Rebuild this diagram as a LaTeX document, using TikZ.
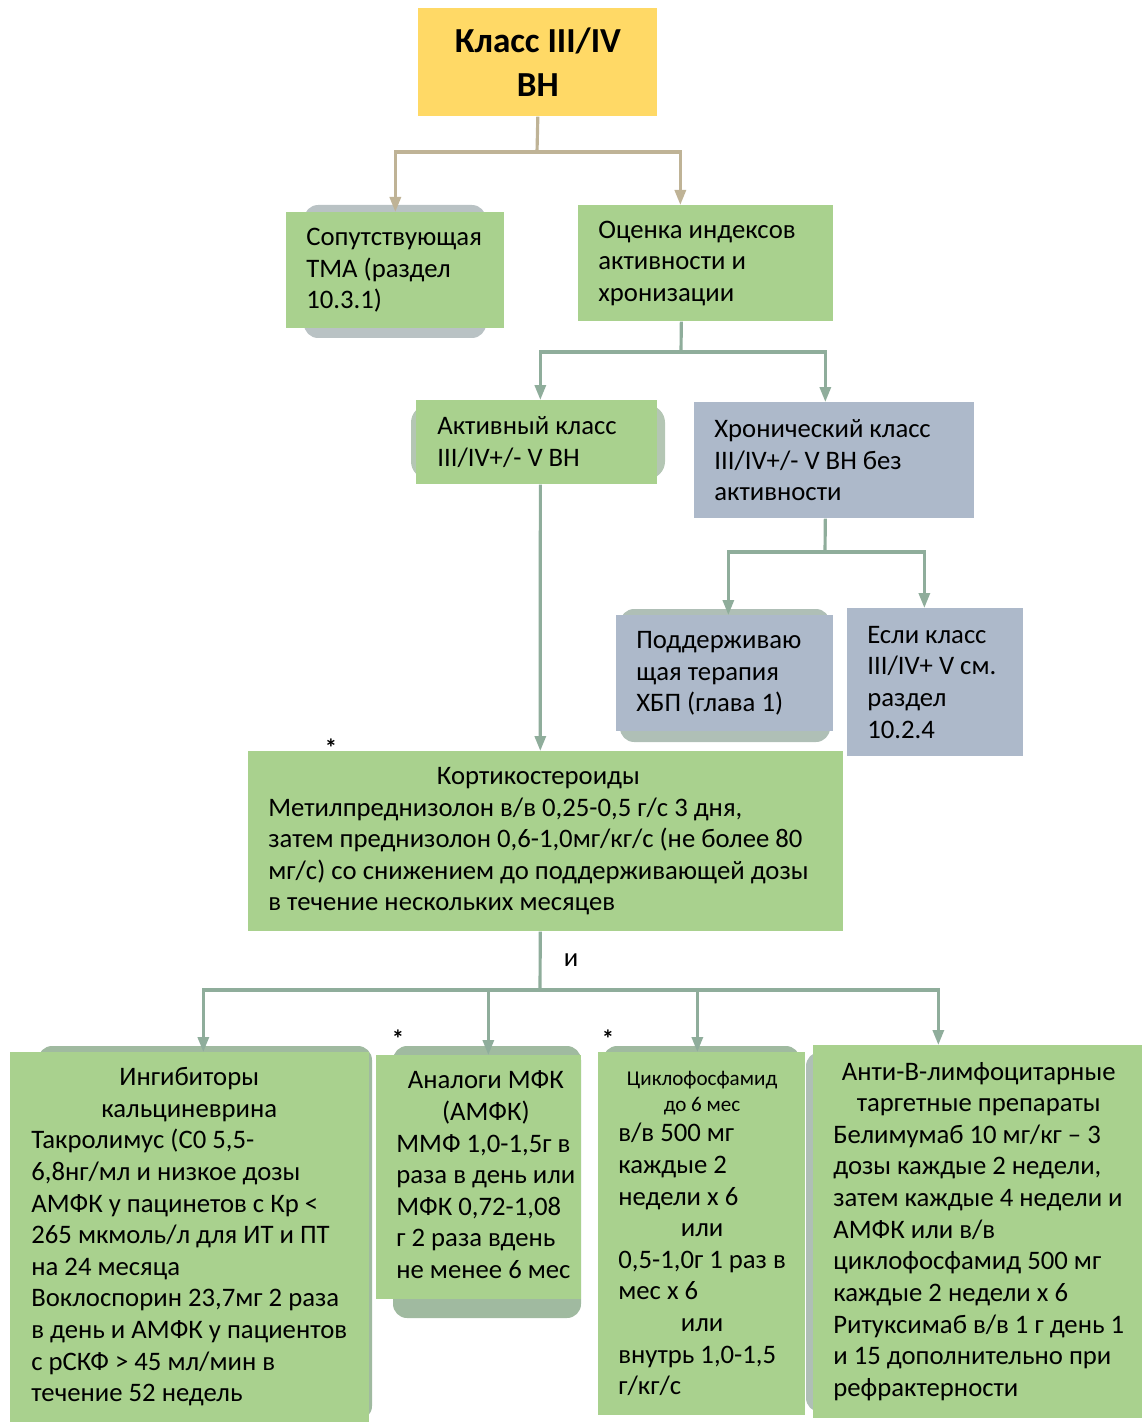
\documentclass[tikz,border=0pt]{standalone}
\usepackage{fontspec}
\setmainfont{Carlito}
\usetikzlibrary{arrows.meta}

\definecolor{rootyellow}{RGB}{255,217,102}
\definecolor{boxgreen}{RGB}{169,209,142}
\definecolor{boxgrey}{RGB}{173,185,202}
\definecolor{linetan}{RGB}{191,179,150}
\definecolor{linegreen}{RGB}{143,173,155}
\definecolor{shadegrey}{RGB}{185,194,196}
\definecolor{shadegreen}{RGB}{160,186,160}

\newcommand{\ctrline}[1]{\multicolumn{1}{@{}c@{}}{#1}}

\tikzset{
  basic/.style  = {rectangle, anchor=north west, inner sep=0pt},
  root/.style   = {basic, fill=rootyellow, align=center, font=\fontsize{20}{25}\selectfont\bfseries},
  green box/.style = {basic, fill=boxgreen},
  grey box/.style  = {basic, fill=boxgrey},
  boxtext/.style = {anchor=west, inner sep=0pt, align=left, font=\fontsize{15.2}{18}\selectfont},
  star/.style = {inner sep=0pt, font=\fontsize{14}{14}\selectfont\bfseries},
  line tan/.style   = {draw=linetan, line width=1.8pt},
  line green/.style = {draw=linegreen, line width=1.8pt},
  arrow tan/.style   = {line tan, -{Triangle[length=0.3cm,width=0.22cm]}},
  arrow green/.style = {line green, -{Triangle[length=0.3cm,width=0.22cm]}}
}

\begin{document}
\begin{tikzpicture}[x=0.02cm, y=-0.02cm]
\useasboundingbox (0,0) rectangle (1142,1425);

% rounded shapes left behind some of the boxes
\fill[shadegrey, rounded corners=8pt] (304,205) rectangle (486,338);
\fill[shadegrey!70!boxgreen, rounded corners=10pt] (411,405) rectangle (665,479);
\fill[shadegrey!60!shadegreen, rounded corners=8pt] (620,609) rectangle (830,742);
\fill[shadegreen, rounded corners=8pt] (38,1046) rectangle (372,1420);
\fill[shadegreen, rounded corners=8pt] (393,1046) rectangle (581,1318);
\fill[shadegreen, rounded corners=8pt] (603,1046) rectangle (800,1410);
\fill[shadegrey!60!shadegreen, rounded corners=8pt] (806,1052) rectangle (1130,1412);

% root of the tree
\node[root, minimum width=4.78cm, minimum height=2.16cm] (root) at (418,8) {Класс III/IV\\ВН};

% first level
\node[green box, minimum width=4.36cm, minimum height=2.32cm] (c1) at (286,212) {};
\node[green box, minimum width=5.1cm, minimum height=2.32cm] (c2) at (578,205) {};

% second level
\node[green box, minimum width=4.82cm, minimum height=1.68cm] (c21) at (416,400) {};
\node[grey box, minimum width=5.6cm, minimum height=2.32cm] (c22) at (694,402) {};
\node[grey box, minimum width=4.34cm, minimum height=2.32cm] (c221) at (616,615) {};
\node[grey box, minimum width=3.52cm, minimum height=2.96cm] (c222) at (847,608) {};

% corticosteroids and the four drug groups
\node[green box, minimum width=11.9cm, minimum height=3.6cm] (c3) at (248,751) {};
\node[green box, minimum width=7.18cm, minimum height=7.4cm] (c31) at (10,1052) {};
\node[green box, minimum width=4.1cm, minimum height=4.88cm] (c32) at (376,1055) {};
\node[green box, minimum width=4.14cm, minimum height=7.26cm] (c33) at (598,1052) {};
\node[green box, minimum width=6.58cm, minimum height=7.46cm] (c34) at (813,1045) {};

% texts of the boxes
\node[boxtext] (t1) at ([xshift=0.4cm]c1.west) {Сопутствующая\\ТМА (раздел\\10.3.1)};
\node[boxtext] (t2) at ([xshift=0.4cm]c2.west) {Оценка индексов\\активности и\\хронизации};
\node[boxtext] (t21) at ([xshift=0.42cm]c21.west) {Активный класс\\III/IV+/- V ВН};
\node[boxtext] (t22) at ([xshift=0.4cm]c22.west) {Хронический класс\\III/IV+/- V ВН без\\активности};
\node[boxtext] (t221) at ([xshift=0.4cm]c221.west) {Поддерживаю\\щая терапия\\ХБП (глава 1)};
\node[boxtext] (t222) at ([xshift=0.4cm]c222.west) {Если класс\\III/IV+ V см.\\раздел\\10.2.4};

\node[boxtext] (t3) at ([xshift=0.4cm]c3.west) {\begin{tabular}{@{}l@{}}
\ctrline{Кортикостероиды}\\
Метилпреднизолон в/в 0,25-0,5 г/с 3 дня,\\
затем преднизолон 0,6-1,0мг/кг/с (не более 80\\
мг/с) со снижением до поддерживающей дозы\\
в течение нескольких месяцев
\end{tabular}};

\node[boxtext] (t31) at ([xshift=0.42cm]c31.west) {\begin{tabular}{@{}l@{}}
\ctrline{Ингибиторы}\\
\ctrline{кальциневрина}\\
Такролимус (С0 5,5-\\
6,8нг/мл и низкое дозы\\
АМФК у пацинетов с Кр <\\
265 мкмоль/л для ИТ и ПТ\\
на 24 месяца\\
Воклоспорин 23,7мг 2 раза\\
в день и АМФК у пациентов\\
с рСКФ > 45 мл/мин в\\
течение 52 недель
\end{tabular}};

\node[boxtext] (t32) at ([xshift=0.4cm]c32.west) {\begin{tabular}{@{}l@{}}
\ctrline{Аналоги МФК}\\
\ctrline{(АМФК)}\\
ММФ 1,0-1,5г в\\
раза в день или\\
МФК 0,72-1,08\\
г 2 раза вдень\\
не менее 6 мес
\end{tabular}};

\node[boxtext] (t33) at ([xshift=0.4cm]c33.west) {\begin{tabular}{@{}l@{}}
\ctrline{\fontsize{12}{15}\selectfont Циклофосфамид}\\[-3pt]
\ctrline{\fontsize{12}{15}\selectfont до 6 мес}\\[-1pt]
в/в 500 мг\\
каждые 2\\
недели х 6\\
\ctrline{или}\\
0,5-1,0г 1 раз в\\
мес х 6\\
\ctrline{или}\\
внутрь 1,0-1,5\\
г/кг/с
\end{tabular}};

\node[boxtext] (t34) at ([xshift=0.4cm]c34.west) {\begin{tabular}{@{}l@{}}
\ctrline{Анти-В-лимфоцитарные}\\
\ctrline{таргетные препараты}\\
Белимумаб 10 мг/кг – 3\\
дозы каждые 2 недели,\\
затем каждые 4 недели и\\
АМФК или в/в\\
циклофосфамид 500 мг\\
каждые 2 недели х 6\\
Ритуксимаб в/в 1 г день 1\\
и 15 дополнительно при\\
рефрактерности
\end{tabular}};

% small marks
\node[font=\fontsize{15.2}{18}\selectfont] (and) at (571,960) {и};
\node[star] (s1) at (331,748) {*};
\node[star] (s2) at (398,1039) {*};
\node[star] (s3) at (608,1039) {*};

% branching points
\coordinate (j1) at (537,152);
\coordinate (j2) at (681,352);
\coordinate (j3) at (825,552);
\coordinate (j4) at (540,990);

% lines from each box to its children
\draw[line tan] (root.south) -- (j1);
\draw[arrow tan] (j1) -| (c1.north);
\draw[arrow tan] (j1) -| ([xshift=-0.51cm]c2.north);

\draw[line green] ([xshift=-0.49cm]c2.south) -- (j2);
\draw[arrow green] (j2) -| ([xshift=0.07cm]c21.north);
\draw[arrow green] (j2) -| ([xshift=-0.18cm]c22.north);

\draw[line green] ([xshift=-0.18cm]c22.south) -- (j3);
\draw[arrow green] (j3) -| ([xshift=0.07cm]c221.north);
\draw[arrow green] (j3) -| ([xshift=-0.22cm]c222.north);

\draw[arrow green] ([xshift=0.07cm]c21.south) -- ([xshift=-0.11cm]c3.north);

\draw[line green] ([xshift=-0.11cm]c3.south) -- (j4);
\foreach \name/\dx in {c31/0.27, c32/0.19, c33/-0.09, c34/-0.79}
  \draw[arrow green] (j4) -| ([xshift=\dx cm]\name.north);
\end{tikzpicture}
\end{document}
